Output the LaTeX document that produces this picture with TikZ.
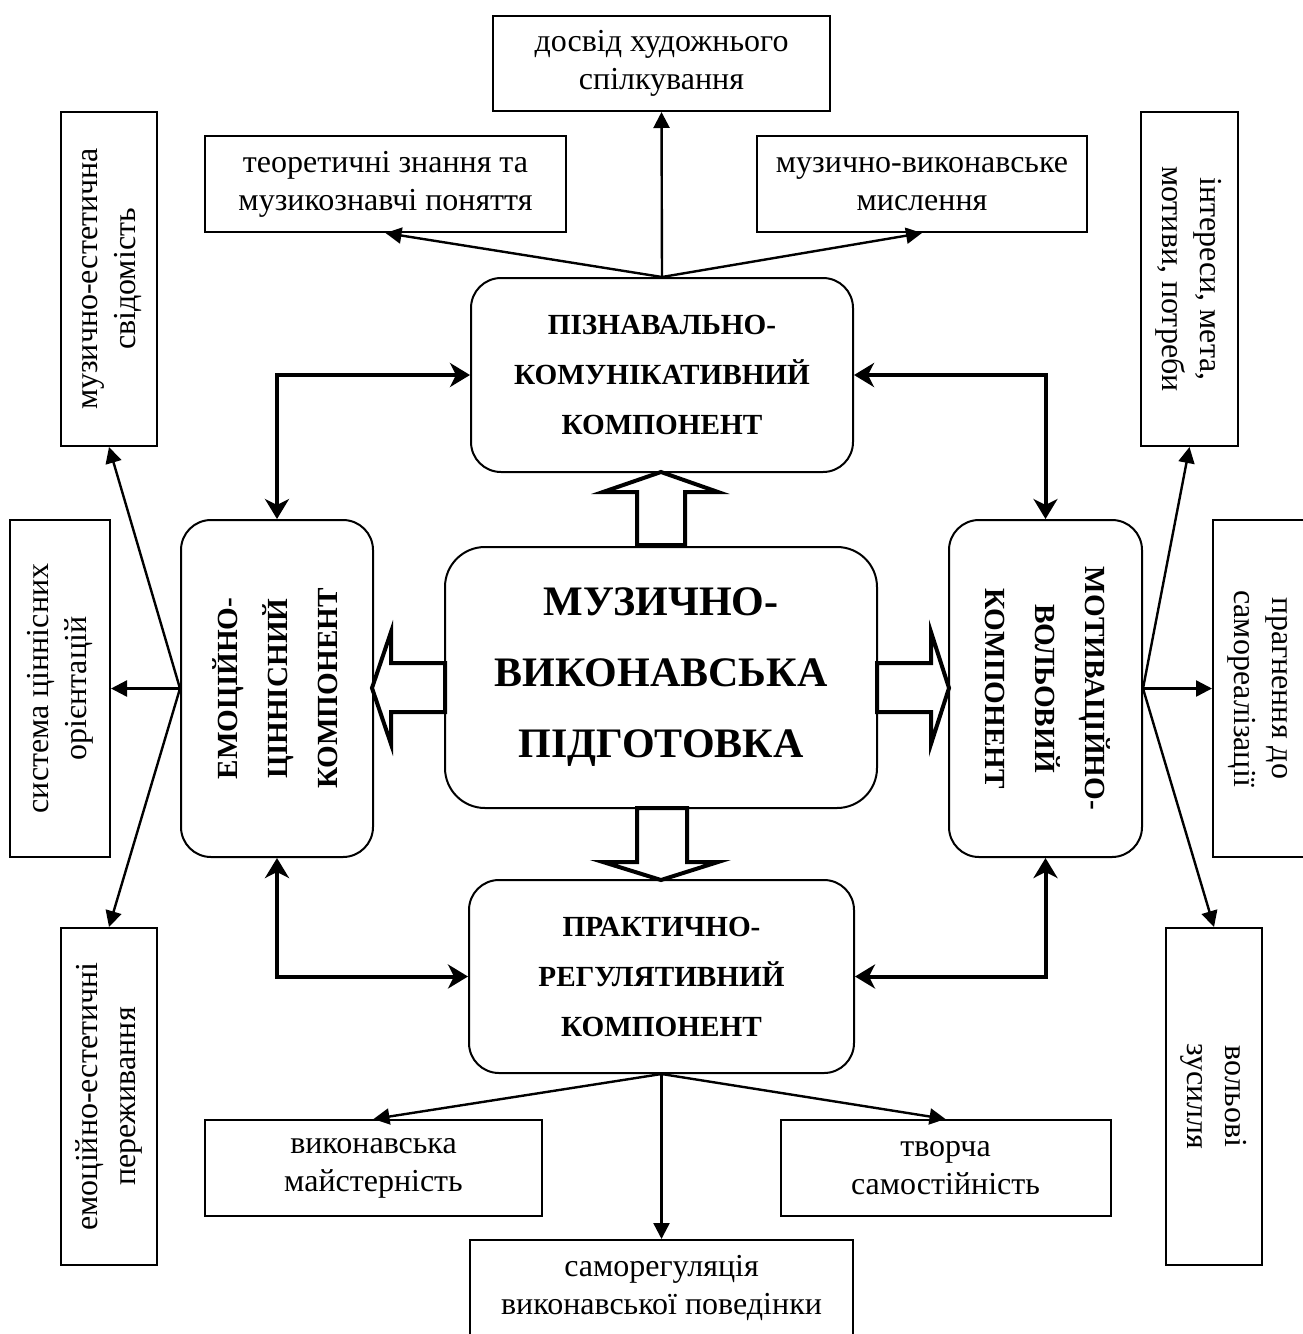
\documentclass[tikz,border=0pt]{standalone}
\usepackage{fontspec}
\setmainfont{Liberation Serif}
\usepackage{graphicx}
\usetikzlibrary{arrows.meta}

\tikzset{
    plainbox/.style={draw, line width=1pt, align=center, inner sep=2pt,
        font=\fontsize{16pt}{19pt}\selectfont},
    compbox/.style={draw, line width=1pt, rounded corners=15pt, align=center, inner sep=2pt,
        font=\fontsize{14.6pt}{25pt}\selectfont\bfseries},
    thinarrow/.style={line width=1.2pt, -{Triangle[length=8pt,width=8pt]}},
    linkarrow/.style={line width=2pt,
        {Stealth[length=10pt,width=12pt,inset=3pt]}-{Stealth[length=10pt,width=12pt,inset=3pt]}},
    blockarrow/.style={line width=2pt, fill=white, line join=miter},
}
\newcommand{\uptext}[1]{\rotatebox{90}{\begin{tabular}{@{}c@{}}#1\end{tabular}}}
\newcommand{\downtext}[1]{\rotatebox{-90}{\begin{tabular}{@{}c@{}}#1\end{tabular}}}

\begin{document}
\begin{tikzpicture}[x=0.5pt, y=-0.5pt]
    \useasboundingbox (0,0) rectangle (1302,1334);

    % Central block
    \node[draw, line width=1pt, rounded corners=20pt, align=center,
          minimum width=216pt, minimum height=130.5pt,
          font=\fontsize{21pt}{35.5pt}\selectfont\bfseries] (mvp) at (661,677.5)
        {МУЗИЧНО-\\ВИКОНАВСЬКА\\ПІДГОТОВКА};

    % Four components
    \node[compbox, minimum width=191pt, minimum height=97pt] (pk) at (662,375)
        {ПІЗНАВАЛЬНО-\\КОМУНІКАТИВНИЙ\\КОМПОНЕНТ};
    \node[compbox, minimum width=96pt, minimum height=168.5pt] (emo) at (277,688.5)
        {\uptext{ЕМОЦІЙНО-\\ЦІННІСНИЙ\\КОМПОНЕНТ}};
    \node[compbox, minimum width=96.5pt, minimum height=168.5pt] (mot) at (1045.5,688.5)
        {\downtext{МОТИВАЦІЙНО-\\ВОЛЬОВИЙ\\КОМПОНЕНТ}};
    \node[compbox, minimum width=192.5pt, minimum height=96.5pt] (pr) at (661.5,976.5)
        {ПРАКТИЧНО-\\РЕГУЛЯТИВНИЙ\\КОМПОНЕНТ};

    % Hollow arrows from the centre
    \draw[blockarrow] (637,545) -- (637,492) -- (603,492) -- (661,472) -- (718,492) -- (685,492) -- (685,545) -- cycle;
    \draw[blockarrow] (637,808) -- (637,862) -- (603,862) -- (661,880) -- (718,862) -- (687,862) -- (687,808) -- cycle;
    \draw[blockarrow] (445,663) -- (391,663) -- (391,632) -- (372,688) -- (391,744) -- (391,712) -- (445,712) -- cycle;
    \draw[blockarrow] (877,663) -- (931,663) -- (931,632) -- (949,688) -- (931,744) -- (931,712) -- (877,712) -- cycle;

    % Links between components
    \draw[linkarrow] (pk.west) -| (emo.north);
    \draw[linkarrow] (pk.east) -| (mot.north);
    \draw[linkarrow] (emo.south) |- (pr.west);
    \draw[linkarrow] (mot.south) |- (pr.east);

    % Top items
    \node[plainbox, minimum width=168.5pt, minimum height=47.5pt] (dos) at (661.5,63.5)
        {досвід художнього\\спілкування};
    \node[plainbox, minimum width=180.5pt, minimum height=48pt] (teor) at (385.5,184)
        {теоретичні знання та\\музикознавчі поняття};
    \node[plainbox, minimum width=165pt, minimum height=48pt] (mysl) at (922,184)
        {музично-виконавське\\мислення};

    % Left items
    \node[plainbox, minimum width=48pt, minimum height=167pt] (svid) at (109,279)
        {\uptext{музично-естетична\\свідомість}};
    \node[plainbox, minimum width=50pt, minimum height=168.5pt] (syst) at (60,688.5)
        {\uptext{система ціннісних\\орієнтацій}};
    \node[plainbox, minimum width=48pt, minimum height=168.5pt] (perezh) at (109,1096.5)
        {\uptext{емоційно-естетичні\\переживання}};

    % Right items
    \node[plainbox, minimum width=48.5pt, minimum height=167pt] (inter) at (1189.5,279)
        {\downtext{інтереси, мета,\\мотиви, потреби}};
    \node[plainbox, minimum width=48.5pt, minimum height=168.5pt] (prahn) at (1261.5,688.5)
        {\downtext{прагнення до\\самореалізації}};
    \node[plainbox, minimum width=48pt, minimum height=168.5pt] (vol) at (1214,1096.5)
        {\downtext{вольові\\зусилля}};

    % Bottom items
    \node[plainbox, minimum width=168.5pt, minimum height=48pt] (maist) at (373.5,1168)
        {виконавська\\майстерність};
    \node[plainbox, minimum width=165pt, minimum height=48pt] (tvor) at (945.5,1168)
        {творча\\самостійність};
    \node[plainbox, minimum width=191.5pt, minimum height=48pt] (samoreg) at (661.5,1288)
        {саморегуляція\\виконавської поведінки};

    % Fans of arrows
    \draw[thinarrow] (pk.north) -- (dos.south);
    \draw[thinarrow] (pk.north) -- (teor.south);
    \draw[thinarrow] (pk.north) -- (mysl.south);

    \draw[thinarrow] (emo.west) -- (svid.south);
    \draw[thinarrow] (emo.west) -- (syst.east);
    \draw[thinarrow] (emo.west) -- (perezh.north);

    \draw[thinarrow] (mot.east) -- (inter.south);
    \draw[thinarrow] (mot.east) -- (prahn.west);
    \draw[thinarrow] (mot.east) -- (vol.north);

    \draw[thinarrow] (pr.south) -- (maist.north);
    \draw[thinarrow] (pr.south) -- (tvor.north);
    \draw[thinarrow] (pr.south) -- (samoreg.north);
\end{tikzpicture}
\end{document}
